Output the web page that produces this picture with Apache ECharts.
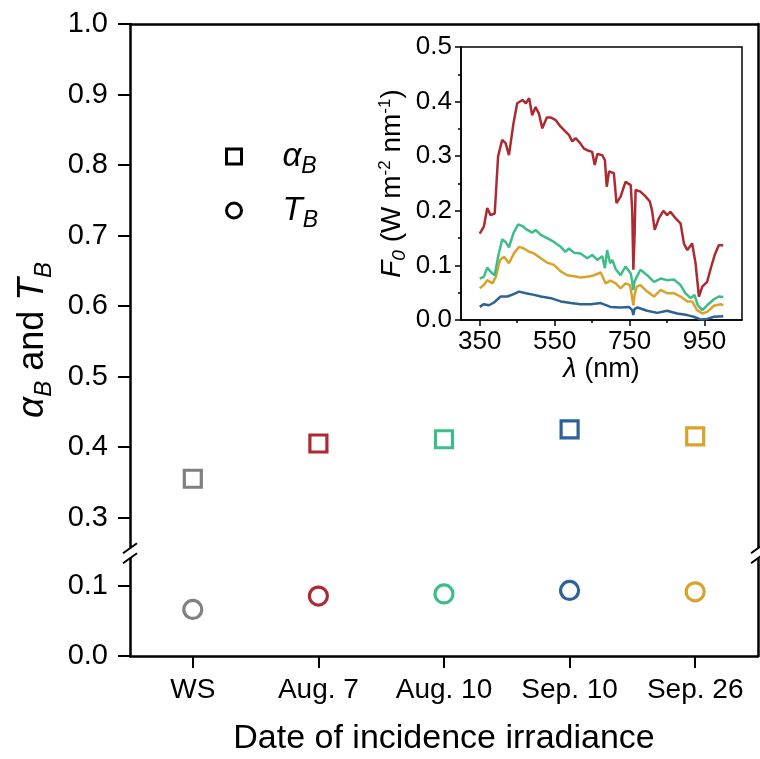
<!DOCTYPE html>
<html><head><meta charset="utf-8">
<script src="https://cdn.jsdelivr.net/npm/echarts@6/dist/echarts.min.js"></script>
<style>html,body{margin:0;padding:0;background:#fff}#c{width:760px;height:759px}</style>
</head><body><div id="c"></div>
<script>
// ---- data ----
const categories = ['WS', 'Aug. 7', 'Aug. 10', 'Sep. 10', 'Sep. 26'];
const alphaB = [0.355, 0.405, 0.411, 0.425, 0.415];
const TB = [0.066, 0.085, 0.088, 0.093, 0.091];
const pointColors = ['#808080', '#ad2b30', '#3dbd8a', '#2d6294', '#daa22b'];
const topTicks = [0.3, 0.4, 0.5, 0.6, 0.7, 0.8, 0.9, 1.0];
const bottomTicks = [0.0, 0.1];
const insetXTicks = [350, 550, 750, 950];
const insetXMinor = [450, 650, 850];

const specAug7 = [[350,0.158],[361,0.171],[370,0.205],[379,0.192],[390,0.195],[399,0.30],[410,0.33],[419,0.324],[428,0.302],[440,0.36],[450,0.397],[464,0.403],[473,0.397],[482,0.406],[490,0.375],[499,0.39],[508,0.378],[517,0.351],[529,0.371],[539,0.371],[553,0.366],[566,0.354],[579,0.345],[588,0.339],[597,0.327],[606,0.333],[618,0.324],[628,0.314],[637,0.311],[650,0.308],[657,0.284],[664,0.304],[677,0.302],[684,0.293],[689,0.244],[695,0.272],[708,0.269],[715,0.214],[726,0.226],[739,0.253],[753,0.247],[757,0.2],[760,0.092],[763,0.15],[766,0.238],[779,0.235],[793,0.226],[804,0.217],[810,0.2],[817,0.165],[828,0.186],[840,0.2],[850,0.192],[859,0.198],[873,0.186],[886,0.177],[895,0.14],[904,0.128],[917,0.14],[926,0.104],[935,0.043],[944,0.061],[957,0.07],[968,0.098],[977,0.119],[988,0.137],[1000,0.137]];
const specAug10 = [[350,0.076],[361,0.079],[370,0.096],[381,0.087],[390,0.082],[399,0.116],[410,0.148],[419,0.143],[428,0.133],[440,0.159],[452,0.175],[464,0.172],[477,0.165],[490,0.16],[499,0.165],[513,0.156],[530,0.15],[548,0.143],[566,0.134],[579,0.125],[588,0.131],[602,0.123],[619,0.122],[637,0.113],[650,0.119],[664,0.11],[677,0.117],[684,0.095],[690,0.128],[698,0.104],[704,0.11],[713,0.093],[726,0.082],[739,0.098],[753,0.085],[757,0.07],[760,0.055],[763,0.07],[769,0.079],[779,0.092],[797,0.082],[815,0.07],[833,0.076],[850,0.073],[868,0.074],[886,0.064],[899,0.049],[913,0.04],[923,0.046],[932,0.027],[944,0.018],[957,0.027],[975,0.038],[988,0.043],[1000,0.042]];
const specSep26 = [[350,0.058],[361,0.064],[370,0.073],[384,0.067],[393,0.079],[404,0.11],[415,0.116],[428,0.104],[442,0.123],[455,0.134],[468,0.131],[482,0.125],[495,0.122],[513,0.113],[530,0.105],[548,0.101],[566,0.089],[584,0.082],[602,0.08],[619,0.078],[637,0.079],[655,0.082],[673,0.087],[686,0.067],[699,0.072],[713,0.067],[726,0.058],[739,0.067],[751,0.064],[757,0.04],[760,0.027],[763,0.045],[769,0.061],[779,0.064],[797,0.052],[815,0.043],[833,0.055],[850,0.049],[868,0.049],[886,0.043],[904,0.034],[917,0.034],[930,0.018],[944,0.012],[957,0.015],[975,0.026],[993,0.029],[1000,0.027]];
const specSep10 = [[350,0.024],[361,0.029],[375,0.027],[388,0.032],[406,0.043],[424,0.043],[442,0.048],[455,0.052],[473,0.049],[495,0.046],[513,0.043],[540,0.04],[566,0.034],[593,0.031],[619,0.029],[646,0.029],[673,0.031],[699,0.024],[726,0.023],[748,0.024],[757,0.018],[760,0.009],[763,0.02],[771,0.023],[797,0.017],[824,0.013],[850,0.017],[877,0.012],[904,0.009],[921,0.006],[939,0.001],[957,0.002],[975,0.006],[1000,0.007]];

// ---- layout ----
const FONT = '"Liberation Sans", Arial, sans-serif';
const L = 130, R = 2, T = 24, BOT = 656;
const pxPerUnit = 705;
const topMin = 0.25, topMax = 1.0;
const breakY = T + (topMax - topMin) * pxPerUnit;
const bottomMax = (BOT - breakY) / pxPerUnit;

const chart = echarts.init(document.getElementById('c'), null, {renderer: 'canvas'});
const black = '#000';
const axLine = {show: true, lineStyle: {color: black, width: 2.5}};

function brk(x) {
  return [
    {type: 'rect', z: 100, shape: {x: x - 6, y: breakY - 5, width: 12, height: 10}, style: {fill: '#fff'}},
    {type: 'line', z: 101, shape: {x1: x - 7, y1: breakY + 0.5, x2: x + 7, y2: breakY - 9.5}, style: {stroke: black, lineWidth: 2}},
    {type: 'line', z: 101, shape: {x1: x - 7, y1: breakY + 10.5, x2: x + 7, y2: breakY + 0.5}, style: {stroke: black, lineWidth: 2}}
  ];
}

const option = {
  animation: false,
  backgroundColor: '#fff',
  textStyle: {fontFamily: FONT, color: black},
  grid: [
    {left: L, right: R, top: T, height: breakY - T},
    {left: L, right: R, top: breakY, height: BOT - breakY},
    {left: L, right: R, top: T, height: BOT - T},
    {left: 461, right: 18, top: 47, height: 273, show: true, backgroundColor: '#fff', borderColor: black, borderWidth: 1.5}
  ],
  legend: {
    orient: 'vertical', left: 220, top: 135, itemWidth: 15, itemHeight: 15, itemGap: 16,
    selectedMode: false,
    data: [{name: 'aB', icon: 'rect'}, {name: 'TB', icon: 'circle'}],
    itemStyle: {color: '#fff', borderColor: black, borderWidth: 3, opacity: 1},
    formatter: n => n === 'aB' ? '{sp|}{a|α}{s|B}' : '{sp|}{a|T}{s|B}',
    textStyle: {
      fontFamily: FONT,
      rich: {
        sp: {width: 36},
        a: {fontSize: 33, fontStyle: 'italic', fontFamily: FONT, lineHeight: 40},
        s: {fontSize: 23, fontStyle: 'italic', fontFamily: FONT, padding: [20, 0, 0, 0]}
      }
    }
  },
  xAxis: [
    {gridIndex: 0, type: 'category', data: categories, position: 'top', boundaryGap: true,
     axisLine: axLine, axisTick: {show: false}, axisLabel: {show: false}, splitLine: {show: false}},
    {gridIndex: 1, type: 'category', data: categories, position: 'bottom', boundaryGap: true,
     axisLine: axLine, axisTick: {show: true, interval: 0, alignWithLabel: true, length: 12, lineStyle: {color: black, width: 2}},
     axisLabel: {interval: 0, hideOverlap: false, fontSize: 28, color: black, margin: 20, fontFamily: FONT},
     name: 'Date of incidence irradiance', nameLocation: 'middle', nameGap: 66,
     nameTextStyle: {fontSize: 34, color: black, fontFamily: FONT}},
    {gridIndex: 2, type: 'category', data: categories, show: false},
    {gridIndex: 3, type: 'value', min: 300, max: 1050, position: 'bottom',
     axisLine: {show: true, lineStyle: {color: black, width: 1.5}},
     axisTick: {show: true, customValues: insetXTicks, length: 6, lineStyle: {color: black, width: 1.5}},
     axisLabel: {customValues: insetXTicks, fontSize: 26, color: black, margin: 9, fontFamily: FONT},
     splitLine: {show: false},
     name: '{i|λ}{n| (nm)}', nameLocation: 'middle', nameGap: 34,
     nameTextStyle: {fontFamily: FONT, rich: {i: {fontSize: 27, fontStyle: 'italic', fontFamily: FONT}, n: {fontSize: 27, fontFamily: FONT}}}},
    {gridIndex: 3, type: 'value', min: 300, max: 1050, position: 'bottom',
     axisLine: {show: false}, axisLabel: {show: false}, splitLine: {show: false},
     axisTick: {show: true, customValues: insetXMinor, length: 3, lineStyle: {color: black, width: 1.5}}}
  ],
  yAxis: [
    {gridIndex: 0, type: 'value', min: topMin, max: topMax, position: 'left',
     axisLine: axLine, splitLine: {show: false},
     axisTick: {show: true, customValues: topTicks, length: 12, lineStyle: {color: black, width: 2}},
     axisLabel: {customValues: topTicks, formatter: v => v.toFixed(1), fontSize: 29, color: black, margin: 22, fontFamily: FONT}},
    {gridIndex: 0, type: 'value', min: topMin, max: topMax, position: 'right',
     axisLine: axLine, axisTick: {show: false}, axisLabel: {show: false}, splitLine: {show: false}},
    {gridIndex: 1, type: 'value', min: 0, max: bottomMax, position: 'left',
     axisLine: axLine, splitLine: {show: false},
     axisTick: {show: true, customValues: bottomTicks, length: 12, lineStyle: {color: black, width: 2}},
     axisLabel: {customValues: bottomTicks, formatter: v => v.toFixed(1), fontSize: 29, color: black, margin: 22, fontFamily: FONT}},
    {gridIndex: 1, type: 'value', min: 0, max: bottomMax, position: 'right',
     axisLine: axLine, axisTick: {show: false}, axisLabel: {show: false}, splitLine: {show: false}},
    {gridIndex: 2, type: 'value', min: 0, max: 1, position: 'left',
     axisLine: {show: false}, axisTick: {show: false}, axisLabel: {show: false}, splitLine: {show: false},
     name: '{a|α}{s|B}{n| and }{a|T}{s|B}', nameLocation: 'middle', nameGap: 74,
     nameTextStyle: {fontFamily: FONT, rich: {
       a: {fontSize: 37, fontStyle: 'italic', fontFamily: FONT},
       n: {fontSize: 36, fontFamily: FONT},
       s: {fontSize: 24, fontStyle: 'italic', fontFamily: FONT, padding: [22, 0, 0, 0]}
     }}},
    {gridIndex: 3, type: 'value', min: 0, max: 0.5, interval: 0.1, position: 'left',
     axisLine: {show: true, lineStyle: {color: black, width: 1.5}}, splitLine: {show: false},
     axisTick: {show: true, length: 6, lineStyle: {color: black, width: 1.5}},
     minorTick: {show: true, splitNumber: 2, length: 3, lineStyle: {color: black, width: 1.5}},
     axisLabel: {formatter: v => v.toFixed(1), fontSize: 26, color: black, margin: 9, fontFamily: FONT},
     name: '{i|F}{sb|0}{n| (W m}{sp|-2}{n| nm}{sp|-1}{n|)}', nameLocation: 'middle', nameGap: 52,
     nameTextStyle: {fontFamily: FONT, rich: {
       i: {fontSize: 28, fontStyle: 'italic', fontFamily: FONT},
       n: {fontSize: 28, fontFamily: FONT},
       sb: {fontSize: 19, fontStyle: 'italic', fontFamily: FONT, padding: [15, 0, 0, 0]},
       sp: {fontSize: 17, fontFamily: FONT, padding: [0, 0, 13, 0]}
     }}}
  ],
  series: [
    {name: 'aB', type: 'scatter', xAxisIndex: 0, yAxisIndex: 0, symbol: 'rect', symbolSize: 17,
     itemStyle: {color: '#fff', borderColor: black, borderWidth: 3, opacity: 1},
     emphasis: {disabled: true},
     data: alphaB.map((v, i) => ({value: v, itemStyle: {color: '#fff', borderColor: pointColors[i], borderWidth: 3.2, opacity: 1}}))},
    {name: 'TB', type: 'scatter', xAxisIndex: 1, yAxisIndex: 2, symbol: 'circle', symbolSize: 18,
     itemStyle: {color: '#fff', borderColor: black, borderWidth: 3, opacity: 1},
     emphasis: {disabled: true},
     data: TB.map((v, i) => ({value: v, itemStyle: {color: '#fff', borderColor: pointColors[i], borderWidth: 3.2, opacity: 1}}))},
    {name: 'Sep. 10', type: 'line', xAxisIndex: 3, yAxisIndex: 5, showSymbol: false, data: specSep10,
     lineStyle: {color: pointColors[3], width: 2.5}, itemStyle: {color: pointColors[3]}, emphasis: {disabled: true}},
    {name: 'Sep. 26', type: 'line', xAxisIndex: 3, yAxisIndex: 5, showSymbol: false, data: specSep26,
     lineStyle: {color: pointColors[4], width: 2.5}, itemStyle: {color: pointColors[4]}, emphasis: {disabled: true}},
    {name: 'Aug. 10', type: 'line', xAxisIndex: 3, yAxisIndex: 5, showSymbol: false, data: specAug10,
     lineStyle: {color: pointColors[2], width: 2.5}, itemStyle: {color: pointColors[2]}, emphasis: {disabled: true}},
    {name: 'Aug. 7', type: 'line', xAxisIndex: 3, yAxisIndex: 5, showSymbol: false, data: specAug7,
     lineStyle: {color: pointColors[1], width: 2.5}, itemStyle: {color: pointColors[1]}, emphasis: {disabled: true}}
  ],
  graphic: brk(L).concat(brk(760 - R))
};
chart.setOption(option);
</script>
</body></html>
